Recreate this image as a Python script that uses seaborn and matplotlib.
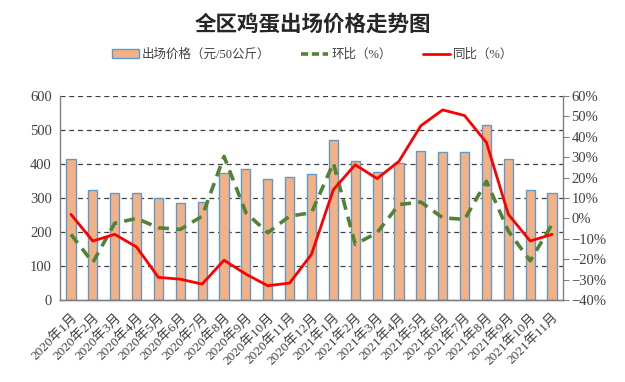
import numpy as np
import pandas as pd
import seaborn as sns
import matplotlib.pyplot as plt
from matplotlib.patches import Patch
from matplotlib.lines import Line2D

months = ["2020年1月", "2020年2月", "2020年3月", "2020年4月", "2020年5月", "2020年6月",
          "2020年7月", "2020年8月", "2020年9月", "2020年10月", "2020年11月", "2020年12月",
          "2021年1月", "2021年2月", "2021年3月", "2021年4月", "2021年5月", "2021年6月",
          "2021年7月", "2021年8月", "2021年9月", "2021年10月", "2021年11月"]
price = [415, 324, 315, 315, 300, 286, 289, 374, 385, 357, 363, 371,
         470, 410, 377, 403, 439, 436, 435, 514, 415, 324, 315]
mom = [-7.8, -21.6, -2.4, 0.0, -4.6, -5.4, 1.1, 30.4, 2.8, -7.0, 1.1, 2.8,
       27.2, -12.7, -7.0, 6.8, 8.0, 0.3, -0.5, 18.2, -6.2, -20.8, -2.9]
yoy = [2.0, -11.1, -7.8, -14.0, -28.9, -29.8, -32.2, -20.5, -27.3, -33.0, -31.7, -17.6,
       14.1, 26.3, 19.5, 28.0, 45.4, 53.2, 50.4, 37.2, 2.0, -11.1, -7.8]

sns.set_style("white")
plt.rcParams["font.family"] = ["Liberation Serif", "Noto Sans CJK SC"]

df = pd.DataFrame({"month": months, "price": price, "mom": mom, "yoy": yoy, "x": np.arange(len(months))})

fig = plt.figure(figsize=(6.25, 3.82), dpi=100)
ax = fig.add_axes([60 / 625, 1 - 300 / 382, 503 / 625, 204 / 382])

sns.barplot(data=df, x="month", y="price", ax=ax, color="#F4B183", edgecolor="#5B9BD5",
            linewidth=1, width=0.42, saturation=1)
ax.set_ylim(0, 600)
ax.set_xlim(-0.5, len(months) - 0.5)
ax.set_yticks(range(0, 601, 100))
ax.set_xlabel("")
ax.set_ylabel("")
for y in range(100, 601, 100):
    ax.axhline(y, color="#404040", linestyle=(0, (4, 3)), linewidth=0.9, zorder=0)
ax.set_axisbelow(True)

ax2 = ax.twinx()
sns.lineplot(data=df, x="x", y="mom", ax=ax2, color="#548235", linewidth=2.6,
             linestyle=(0, (3, 2)))
sns.lineplot(data=df, x="x", y="yoy", ax=ax2, color="#FF0000", linewidth=2)
ax2.set_ylim(-40, 60)
ax2.set_yticks(range(-40, 61, 10))
ax2.set_yticklabels([f"{v}%".replace("-", "−") for v in range(-40, 61, 10)])
ax2.set_xlim(-0.5, len(months) - 0.5)
ax2.set_xlabel("")
ax2.set_ylabel("")

for a in (ax, ax2):
    a.spines["top"].set_visible(False)
    for s in ("left", "right", "bottom"):
        a.spines[s].set_color("#808080")
        a.spines[s].set_linewidth(1)
ax2.spines["left"].set_visible(False)
ax.spines["right"].set_visible(False)

ax.tick_params(axis="y", length=0, labelsize=10.5, colors="#404040", pad=6)
ax2.tick_params(axis="y", length=4, labelsize=10.5, colors="#404040", pad=2, direction="out")
ax2.tick_params(axis="y", color="#808080")
ax.tick_params(axis="x", length=0, labelsize=9.5, colors="#404040", pad=8)
ax.set_xticks(range(len(months)))
ax.set_xticklabels(months, rotation=45, ha="right", rotation_mode="anchor")

fig.text(0.5, 1 - 24 / 382, "全区鸡蛋出场价格走势图", ha="center", va="center",
         fontsize=15.5, fontweight="bold", family=["Noto Sans CJK SC"])

handles = [Patch(facecolor="#F4B183", edgecolor="#5B9BD5", linewidth=1),
           Line2D([], [], color="#548235", linewidth=2.6, linestyle=(0, (2, 1))),
           Line2D([], [], color="#FF0000", linewidth=2)]
labels = ["出场价格（元/50公斤）", "环比（%）", "同比（%）"]
fig.legend(handles, labels, loc="center", bbox_to_anchor=(0.5, 1 - 55 / 382), ncol=3,
           frameon=False, fontsize=9, handlelength=2.15, columnspacing=2.5, handletextpad=0.25,
           labelcolor="#404040")

fig.savefig("out.png", dpi=100)
